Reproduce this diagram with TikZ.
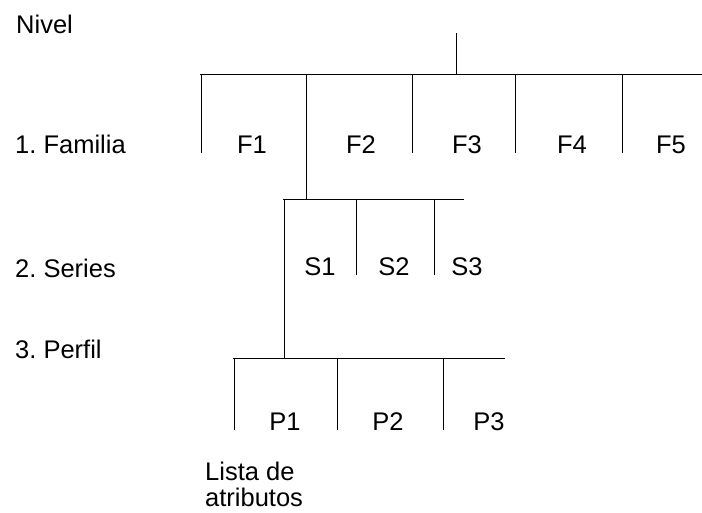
\documentclass[tikz,border=0pt]{standalone}
\usepackage{fontspec}
\setmainfont{Liberation Sans}
\frenchspacing
\begin{document}
\begin{tikzpicture}[x=1pt,y=-1pt,
  lbl/.style={inner sep=0pt, font=\fontsize{25.5}{26}\selectfont},
  tree/.style={line width=1pt, black}]
\useasboundingbox (0,0) rectangle (702,512);
% level labels
\node[lbl, anchor=base west] (nivel) at (16,33) {Nivel};
\node[lbl, anchor=base west] (lv1) at (15,153) {1. Familia};
\node[lbl, anchor=base west] (lv2) at (15,277) {2. Series};
\node[lbl, anchor=base west] (lv3) at (15,358) {3. Perfil};
% families
\node[lbl, anchor=base] (f1) at (252,153) {F1};
\node[lbl, anchor=base] (f2) at (361,153) {F2};
\node[lbl, anchor=base] (f3) at (467,153) {F3};
\node[lbl, anchor=base] (f4) at (572,153) {F4};
\node[lbl, anchor=base] (f5) at (671,153) {F5};
% series
\node[lbl, anchor=base] (s1) at (320,275) {S1};
\node[lbl, anchor=base] (s2) at (394,275) {S2};
\node[lbl, anchor=base] (s3) at (467,275) {S3};
% profiles
\node[lbl, anchor=base] (p1) at (285,430) {P1};
\node[lbl, anchor=base] (p2) at (388,430) {P2};
\node[lbl, anchor=base] (p3) at (489,430) {P3};
\node[lbl, anchor=base west, align=left] (lista) at (205,506) {Lista de\\atributos};
% junction coordinates
\coordinate (root) at (456,33);
\coordinate (rj) at (456,74);
\coordinate (fl) at (200,74);
\coordinate (fr) at (702,74);
\coordinate (f1t) at (201,74);  \coordinate (f1b) at (201,153);
\coordinate (f2t) at (306,74);  \coordinate (f2b) at (306,199);
\coordinate (f3t) at (412,74);  \coordinate (f3b) at (412,153);
\coordinate (f4t) at (515,74);  \coordinate (f4b) at (515,153);
\coordinate (f5t) at (622,74);  \coordinate (f5b) at (622,153);
\coordinate (sl) at (283,199);
\coordinate (sr) at (464,199);
\coordinate (s1t) at (284,199); \coordinate (s1b) at (284,358);
\coordinate (s2t) at (356,199); \coordinate (s2b) at (356,275);
\coordinate (s3t) at (434,199); \coordinate (s3b) at (434,275);
\coordinate (pl) at (233,358);
\coordinate (pr) at (505,358);
\coordinate (p1t) at (234,358); \coordinate (p1b) at (234,430);
\coordinate (p2t) at (337,358); \coordinate (p2b) at (337,430);
\coordinate (p3t) at (443,358); \coordinate (p3b) at (443,430);
% tree lines
\draw[tree] (root) -- (rj);
\draw[tree] (fl) -- (fr);
\draw[tree] (f1t) -- (f1b);
\draw[tree] (f2t) -- (f2b);
\draw[tree] (f3t) -- (f3b);
\draw[tree] (f4t) -- (f4b);
\draw[tree] (f5t) -- (f5b);
\draw[tree] (sl) -- (sr);
\draw[tree] (s1t) -- (s1b);
\draw[tree] (s2t) -- (s2b);
\draw[tree] (s3t) -- (s3b);
\draw[tree] (pl) -- (pr);
\draw[tree] (p1t) -- (p1b);
\draw[tree] (p2t) -- (p2b);
\draw[tree] (p3t) -- (p3b);
\end{tikzpicture}
\end{document}
